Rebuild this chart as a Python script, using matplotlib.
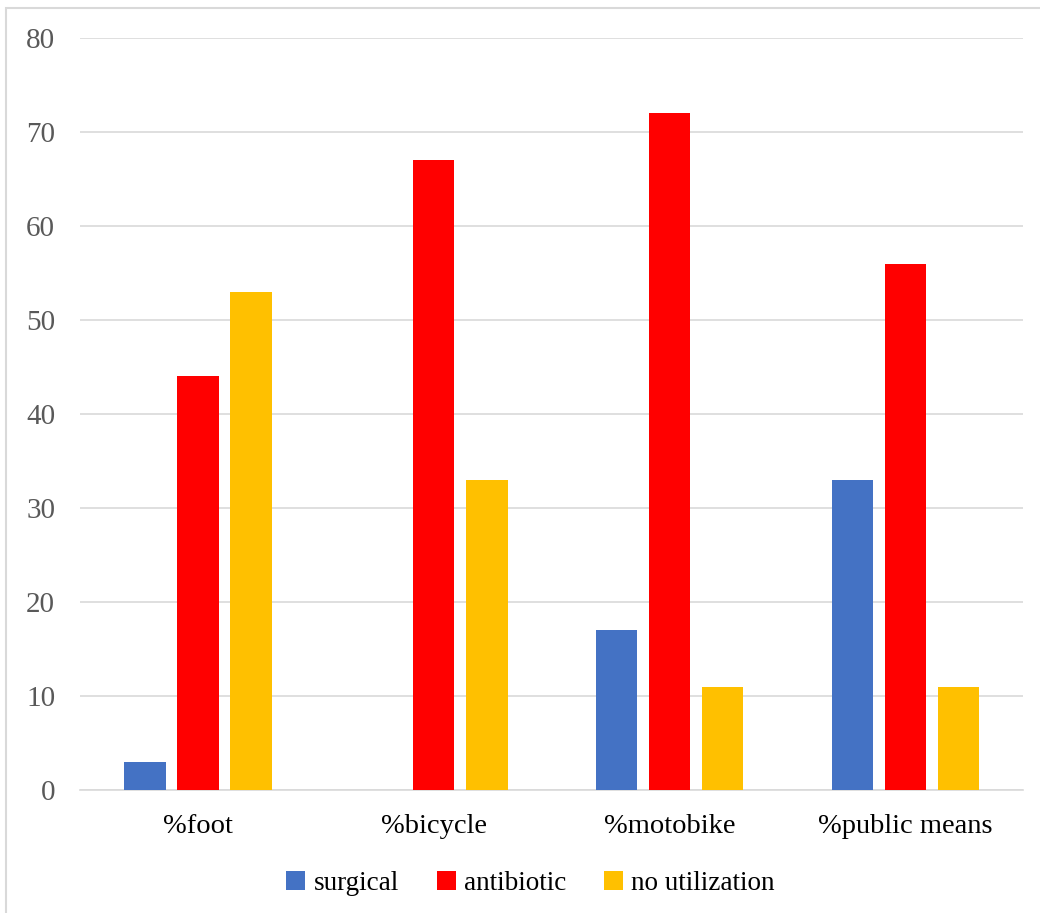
import matplotlib.pyplot as plt
import numpy as np
from matplotlib.patches import Rectangle

# Data
categories = ['%foot', '%bicycle', '%motobike', '%public means']
surgical = [3, 0, 17, 33]
antibiotic = [44, 67, 72, 56]
no_utilization = [53, 33, 11, 11]

series = [('surgical', surgical, '#4472C4'),
          ('antibiotic', antibiotic, '#FF0000'),
          ('no utilization', no_utilization, '#FFC000')]

plt.rcParams['font.family'] = ['Liberation Serif', 'DejaVu Serif']

fig = plt.figure(figsize=(10.4, 9.13), dpi=100)
ax = fig.add_axes([0.077, 0.1347, 0.907, 0.8237])

# Chart border
fig.patches.append(Rectangle((0.006, -0.01), 1.0, 1.001, transform=fig.transFigure,
                             fill=False, edgecolor='#d9d9d9', linewidth=1.5))

x = np.arange(len(categories))
width = 0.175
step = 0.225
for i, (name, vals, color) in enumerate(series):
    ax.bar(x + (i - 1) * step, vals, width, color=color, label=name, zorder=3)

ax.set_xlim(-0.5, 3.5)
ax.set_ylim(0, 80)
ax.set_yticks(range(0, 81, 10))
ax.set_xticks(x)
ax.set_xticklabels(categories, fontsize=20.5, color='black')
ax.tick_params(axis='y', labelsize=21, labelcolor='#595959', length=0, pad=18)
ax.tick_params(axis='x', length=0, pad=17)

ax.grid(axis='y', color='#d9d9d9', linewidth=1.2, zorder=0)
for side in ['top', 'right', 'left']:
    ax.spines[side].set_visible(False)
ax.spines['bottom'].set_color('#d9d9d9')
ax.spines['bottom'].set_linewidth(1.2)

fig.legend(loc='center', bbox_to_anchor=(0.51, 0.032), ncol=3, frameon=False,
           fontsize=19.5, handlelength=0.7, handleheight=0.7, handletextpad=0.3,
           columnspacing=1.4)

fig.savefig('out.png', dpi=100)
